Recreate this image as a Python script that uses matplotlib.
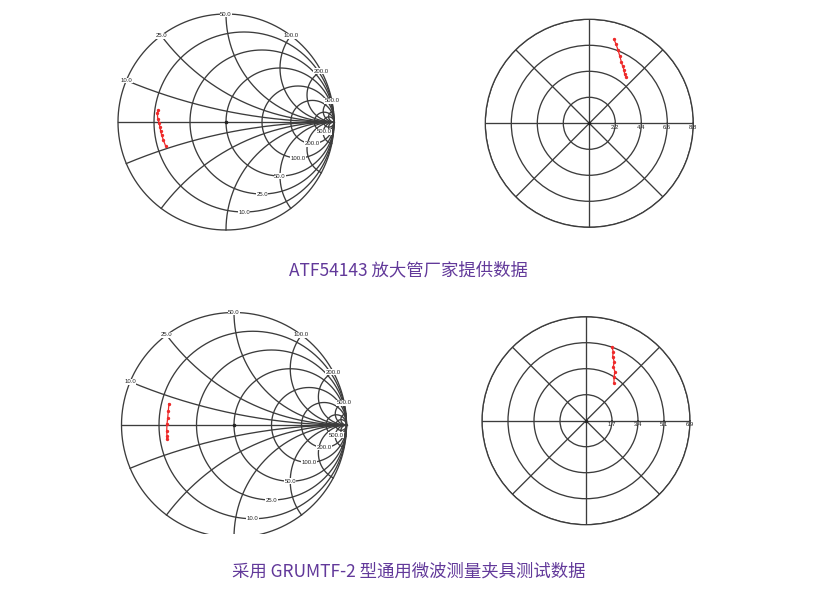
import numpy as np
import matplotlib
matplotlib.use('Agg')
import matplotlib.pyplot as plt

# ---------------- data ----------------
Z0 = 50.0
smith_values = [10, 25, 50, 100, 200, 500]          # ohm grid values (labels)
smith_labels = ['10.0', '25.0', '50.0', '100.0', '200.0', '500.0']

s1_re = [-0.627, -0.636, -0.632, -0.620, -0.611, -0.605, -0.595, -0.581, -0.558]
s1_im = [0.114, 0.083, 0.031, -0.009, -0.049, -0.086, -0.123, -0.164, -0.225]
s2_re = [-0.578, -0.584, -0.589, -0.596, -0.598, -0.596, -0.598]
s2_im = [0.190, 0.125, 0.066, 0.006, -0.054, -0.098, -0.120]

# polar charts (angle deg, magnitude)
p1_ang = [73.6, 71.2, 68.6, 65.4, 62.5, 59.8, 56.9, 54.6, 52.0]
p1_mag = [7.41, 7.05, 6.66, 6.22, 5.87, 5.60, 5.38, 5.15, 5.00]
p1_ticks = [2.2, 4.4, 6.6, 8.8]
p1_ticklabels = ['2.2', '4.4', '6.6', '8.8']

p2_ang = [70.8, 68.4, 67.4, 64.4, 63.2, 59.4, 57.5, 53.6]
p2_mag = [5.18, 4.91, 4.58, 4.33, 4.00, 3.76, 3.45, 3.12]
p2_ticks = [1.72, 3.44, 5.16, 6.88]
p2_ticklabels = ['1.7', '3.4', '5.1', '6.9']

caption1 = 'ATF54143 放大管厂家提供数据'
caption2 = '采用 GRUMTF-2 型通用微波测量夹具测试数据'

# ---------------- figure ----------------
W, H = 821, 599
fig = plt.figure(figsize=(W / 100, H / 100), dpi=100)

GRID = '#3c3c3c'
RED = '#ee2a2a'
PURPLE = '#62399a'
LBL_FONT = 'Liberation Sans'
LBL_SIZE = 4.3
LW = 0.95


def px_axes(left, top, right, bottom, **kw):
    return fig.add_axes([left / W, 1 - bottom / H, (right - left) / W, (bottom - top) / H], **kw)


def smith_chart(cx, cy, R, left, top, right, bottom, re, im):
    ax = px_axes(left, top, right, bottom)
    ax.set_xlim((left - cx) / R, (right - cx) / R)
    ax.set_ylim((cy - bottom) / R, (cy - top) / R)
    ax.axis('off')
    t = np.linspace(0, 2 * np.pi, 721)
    ax.plot(np.cos(t), np.sin(t), color=GRID, lw=LW)
    ax.plot([-1, 1], [0, 0], color=GRID, lw=LW)
    # resistance circles
    for v in smith_values + [1000]:
        r = v / Z0
        c, rad = r / (1 + r), 1 / (1 + r)
        ax.plot(c + rad * np.cos(t), rad * np.sin(t), color=GRID, lw=LW)
    # reactance arcs
    rr = np.tan(np.linspace(0, np.pi / 2 * 0.9995, 800))
    for v in smith_values + [1000]:
        x = v / Z0
        for s in (1, -1):
            g = (rr + 1j * s * x - 1) / (rr + 1j * s * x + 1)
            ax.plot(g.real, g.imag, color=GRID, lw=LW)
    # labels
    bb = dict(facecolor='white', edgecolor='none', pad=0.3)
    for v, lab in zip(smith_values, smith_labels):
        x = v / Z0
        g = (1j * x - 1) / (1j * x + 1)
        ax.text(g.real, g.imag, lab, fontsize=LBL_SIZE, family=LBL_FONT, ha='center',
                va='center', bbox=bb, color='#222222', zorder=5, clip_on=False)
        r = v / Z0
        ax.text(r / (1 + r), -1 / (1 + r), lab, fontsize=LBL_SIZE, family=LBL_FONT,
                ha='center', va='center', bbox=bb, color='#222222', zorder=5)
    ax.plot([0], [0], 'o', color='#222222', ms=1.6)
    ax.plot(re, im, '-', color=RED, lw=0.9, marker='o', ms=1.4, zorder=6)
    return ax


def polar_chart(cx, cy, R, ticks, ticklabels, ang, mag):
    ax = px_axes(cx - R, cy - R, cx + R, cy + R, projection='polar')
    ax.set_ylim(0, ticks[-1])
    ax.set_yticks(ticks)
    ax.set_yticklabels([])
    ax.set_xticks(np.deg2rad(np.arange(0, 360, 45)))
    ax.set_xticklabels([])
    ax.grid(True, color=GRID, lw=LW)
    ax.spines['polar'].set_color(GRID)
    ax.spines['polar'].set_linewidth(LW)
    ax.tick_params(length=0)
    for tv, lab in zip(ticks, ticklabels):
        ax.annotate(lab, (0, tv), xytext=(0, -1.0), textcoords='offset points',
                    fontsize=LBL_SIZE, family=LBL_FONT, ha='center', va='top', color='#222222',
                    annotation_clip=False)
    ax.plot([0], [0], 'o', color='#222222', ms=1.6)
    ax.plot(np.deg2rad(ang), mag, '-', color=RED, lw=0.9, marker='o', ms=1.4, zorder=6)
    return ax


smith_chart(226, 122, 108, 115, 10, 337, 234, s1_re, s1_im)
smith_chart(234, 425, 112.5, 118, 306, 350, 534, s2_re, s2_im)
polar_chart(589.3, 123.3, 104, p1_ticks, p1_ticklabels, p1_ang, p1_mag)
polar_chart(586, 420.7, 104, p2_ticks, p2_ticklabels, p2_ang, p2_mag)

fig.text(408.5 / W, 1 - 270 / H, caption1, fontsize=12.5, color=PURPLE,
         family=['Noto Sans CJK SC', 'DejaVu Sans'], ha='center', va='center')
fig.text(409 / W, 1 - 572 / H, caption2, fontsize=12.5, color=PURPLE,
         family=['Noto Sans CJK SC', 'DejaVu Sans'], ha='center', va='center')

fig.savefig('out.png', dpi=100, facecolor='white')
